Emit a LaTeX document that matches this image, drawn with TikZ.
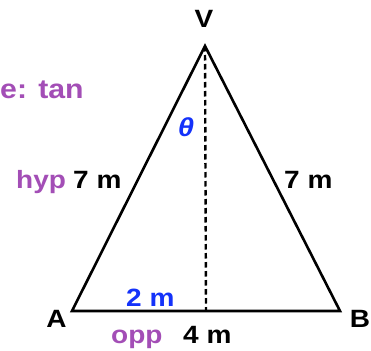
\documentclass[tikz,border=0pt]{standalone}
\usepackage{fontspec}
\setmainfont{Liberation Sans}[FakeStretch=1.12]
\definecolor{hpurple}{RGB}{163,78,182}
\definecolor{hblue}{RGB}{20,50,250}
\begin{document}
\begin{tikzpicture}[x=1pt,y=-1pt,
  lbl/.style={font=\fontsize{25}{29}\selectfont\bfseries, inner sep=0pt, anchor=base west},
  edge/.style={line width=2.6pt, line join=miter},
  alt/.style={line width=2.4pt, dash pattern=on 5.5pt off 3.5pt}]
\useasboundingbox[fill=white] (0,0) rectangle (371,350);
\coordinate (V) at (205,46);
\coordinate (A) at (72,311);
\coordinate (B) at (340,311);
\coordinate (M) at (206,311);
\draw[alt] (V) -- (M);
\draw[edge] (A) -- (B) -- (V) -- cycle;
\node[lbl, anchor=base] (vl) at (204,28) {V};
\node[lbl, anchor=base west, text=hpurple, font=\fontsize{27}{31}\selectfont\bfseries] (title) at (0,99) {e: tan};
\node[lbl, anchor=center, text=hblue, font=\fontsize{26}{29}\selectfont\bfseries\itshape] (th) at (186,127) {θ};
\node[lbl, text=hpurple] (hyp) at (16,188) {hyp};
\node[lbl] (l1) at (73,188) {7 m};
\node[lbl] (l2) at (284,188) {7 m};
\node[lbl, anchor=base] (al) at (56.5,327) {A};
\node[lbl, anchor=base] (bl) at (360,327) {B};
\node[lbl, text=hblue] (h1) at (126,306) {2 m};
\node[lbl, text=hpurple] (opp) at (111,343) {opp};
\node[lbl] (l3) at (183,343) {4 m};
\end{tikzpicture}
\end{document}
